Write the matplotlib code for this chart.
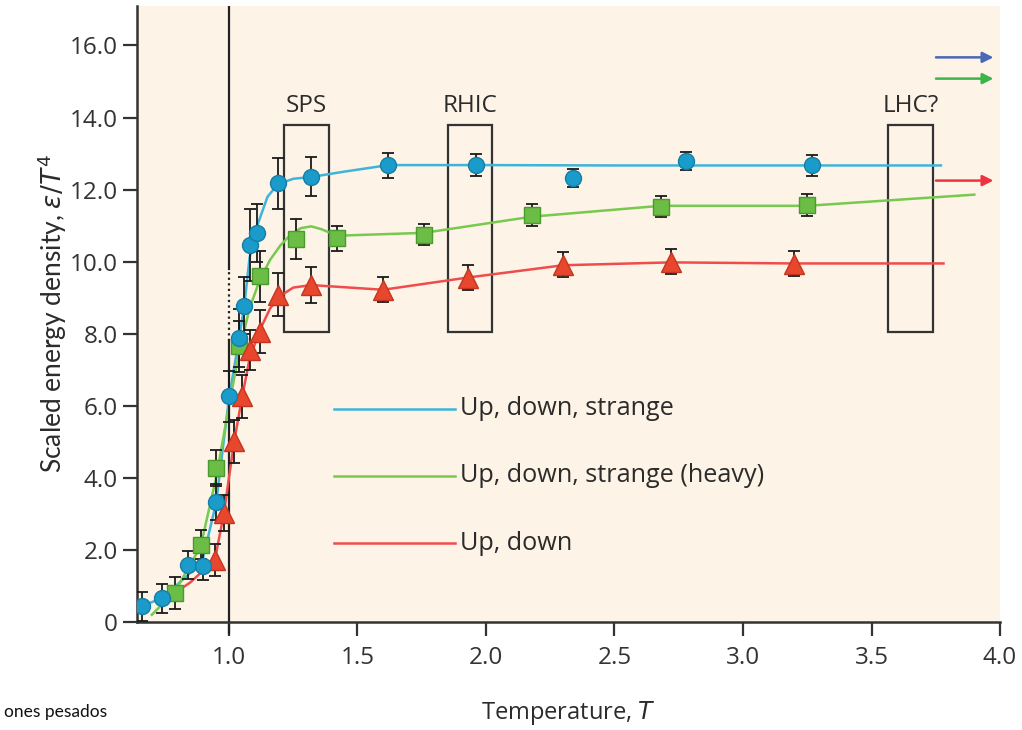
import matplotlib.pyplot as plt
import numpy as np
from matplotlib.patches import Rectangle

plt.rcParams['font.family'] = ['Open Sans', 'DejaVu Sans']

# measured points (temperature, scaled energy density, error)
t_uds = [0.66, 0.74, 0.84, 0.90, 0.95, 1.00, 1.04, 1.06, 1.08, 1.11, 1.19, 1.32, 1.62, 1.96, 2.34, 2.78, 3.27]
e_uds = [0.44, 0.66, 1.58, 1.56, 3.34, 6.26, 7.88, 8.78, 10.47, 10.80, 12.17, 12.36, 12.67, 12.69, 12.31, 12.78, 12.67]
err_uds = [0.4, 0.4, 0.4, 0.4, 0.5, 0.7, 0.8, 0.8, 1.0, 0.8, 0.7, 0.55, 0.35, 0.3, 0.25, 0.25, 0.3]

t_heavy = [0.79, 0.89, 0.95, 1.04, 1.12, 1.26, 1.42, 1.76, 2.18, 2.68, 3.25]
e_heavy = [0.80, 2.14, 4.28, 7.65, 9.59, 10.63, 10.65, 10.75, 11.30, 11.53, 11.58]
err_heavy = [0.45, 0.4, 0.5, 0.7, 0.7, 0.55, 0.35, 0.3, 0.3, 0.3, 0.3]

t_ud = [0.945, 0.98, 1.02, 1.05, 1.08, 1.12, 1.19, 1.32, 1.60, 1.93, 2.30, 2.72, 3.20]
e_ud = [1.72, 3.02, 5.01, 6.26, 7.55, 8.06, 9.08, 9.36, 9.22, 9.56, 9.92, 10.00, 9.94]
err_ud = [0.45, 0.5, 0.6, 0.6, 0.55, 0.6, 0.6, 0.5, 0.35, 0.35, 0.35, 0.35, 0.35]

# fitted curves
ct_uds = [0.66, 0.74, 0.84, 0.90, 0.95, 1.00, 1.04, 1.06, 1.08, 1.11, 1.15, 1.19, 1.25, 1.32, 1.45, 1.62, 2.0, 2.5, 3.0, 3.77]
ce_uds = [0.44, 0.66, 1.3, 1.8, 3.3, 6.2, 7.9, 8.8, 10.1, 11.0, 11.8, 12.15, 12.3, 12.35, 12.5, 12.68, 12.68, 12.67, 12.67, 12.67]
ct_heavy = [0.70, 0.79, 0.89, 0.95, 1.00, 1.04, 1.08, 1.12, 1.16, 1.20, 1.24, 1.28, 1.32, 1.36, 1.42, 1.76, 2.18, 2.68, 3.25, 3.90]
ce_heavy = [0.2, 0.85, 2.1, 4.0, 6.0, 7.5, 8.7, 9.5, 10.05, 10.45, 10.75, 10.93, 10.98, 10.9, 10.72, 10.8, 11.25, 11.55, 11.55, 11.86]
ct_ud = [0.76, 0.85, 0.945, 0.98, 1.02, 1.05, 1.08, 1.12, 1.16, 1.20, 1.25, 1.32, 1.60, 1.93, 2.30, 2.72, 3.20, 3.78]
ce_ud = [0.66, 1.1, 1.72, 3.0, 5.0, 6.2, 7.3, 8.1, 8.7, 9.05, 9.28, 9.35, 9.22, 9.56, 9.9, 9.98, 9.95, 9.95]

# accelerator boxes: name, T from, T to
boxes = [('SPS', 1.214, 1.390), ('RHIC', 1.853, 2.025), ('LHC?', 3.563, 3.739)]
box_low, box_high = 8.05, 13.8

labels = ['Up, down, strange', 'Up, down, strange (heavy)', 'Up, down']
line_cols = ['#3fb4d9', '#77c94f', '#f04c4c']
arrow_cols = ['#4a68b5', '#3bb54a', '#ee3340']
arrow_e = [15.67, 15.08, 12.25]

txt = '#2b2b2b'

fig = plt.figure(figsize=(10.22, 7.3), dpi=100)
ax = fig.add_axes([0.134, 0.148, 0.8445, 0.844])
ax.set_facecolor('#fdf3e6')

# vertical line at T = 1
ax.plot([1.0, 1.0], [9.8, 17.1], color='#222222', lw=1.6, zorder=2)
ax.plot([1.0, 1.0], [7.8, 9.8], color='#222222', lw=1.6, ls=(0, (1, 1.5)), zorder=2)
ax.plot([1.0, 1.0], [-0.3, 7.8], color='#222222', lw=1.6, zorder=2, clip_on=False)

for name, t0, t1 in boxes:
    ax.add_patch(Rectangle((t0, box_low), t1 - t0, box_high - box_low, fill=False,
                           edgecolor='#333333', lw=1.6, zorder=2))
    ax.text((t0 + t1) / 2, 14.0, name, ha='center', va='bottom', fontsize=17.5, color=txt)

ax.plot(ct_uds, ce_uds, color=line_cols[0], lw=1.8, zorder=3)
ax.plot(ct_heavy, ce_heavy, color=line_cols[1], lw=1.8, zorder=3)
ax.plot(ct_ud, ce_ud, color=line_cols[2], lw=1.8, zorder=3)

eb = dict(fmt='none', ecolor='#1a1a1a', elinewidth=1.3, capsize=4.5, capthick=1.3, zorder=4)
ax.errorbar(t_uds, e_uds, yerr=err_uds, **eb)
ax.errorbar(t_heavy, e_heavy, yerr=err_heavy, **eb)
ax.errorbar(t_ud, e_ud, yerr=err_ud, **eb)

ax.plot(t_heavy, e_heavy, 's', ms=11, color='#6bbd45', mec='#4a9a30', mew=1, zorder=5)
ax.plot(t_ud, e_ud, '^', ms=14, color='#e8472d', mec='#c33520', mew=1, zorder=5)
ax.plot(t_uds, e_uds, 'o', ms=11.5, color='#1a9bc9', mec='#137fa6', mew=1, zorder=6)

# legend drawn by hand
leg_e = [5.92, 4.06, 2.19]
for lab, col, e in zip(labels, line_cols, leg_e):
    ax.plot([1.41, 1.88], [e, e], color=col, lw=1.8)
    ax.text(1.9, e, lab, va='center', ha='left', fontsize=18.2, color=txt)

for col, e in zip(arrow_cols, arrow_e):
    ax.annotate('', xy=(3.985, e), xytext=(3.74, e),
                arrowprops=dict(arrowstyle='-|>', color=col, lw=1.8, mutation_scale=16))

ax.set_xlim(0.642, 4.0)
ax.set_ylim(0, 17.1)
ax.set_xticks([1.0, 1.5, 2.0, 2.5, 3.0, 3.5, 4.0])
ax.set_xticklabels(['1.0', '1.5', '2.0', '2.5', '3.0', '3.5', '4.0'])
ax.set_yticks(np.arange(0, 17, 2))
ax.set_yticklabels(['0'] + ['%.1f' % v for v in np.arange(2, 17, 2)])
ax.tick_params(axis='both', direction='out', length=10, width=1.6, color='#333333',
               labelsize=17.5, labelcolor='#333333')
ax.tick_params(axis='x', pad=7)
ax.tick_params(axis='y', pad=4)

for s in ['top', 'right']:
    ax.spines[s].set_visible(False)
for s in ['left', 'bottom']:
    ax.spines[s].set_linewidth(1.8)
    ax.spines[s].set_color('#333333')

ax.set_xlabel('Temperature, $T$', fontsize=17, color=txt, labelpad=21)
ax.set_ylabel(r'Scaled energy density, $\varepsilon/T^4$', fontsize=19, color=txt,
              labelpad=0, family=['Lato', 'DejaVu Sans'])

fig.text(0.004, 0.025, 'ones pesados', fontsize=12.5, color='#111111', ha='left', va='center',
         family=['Lato', 'DejaVu Sans'])

fig.savefig('out.png', dpi=100)
